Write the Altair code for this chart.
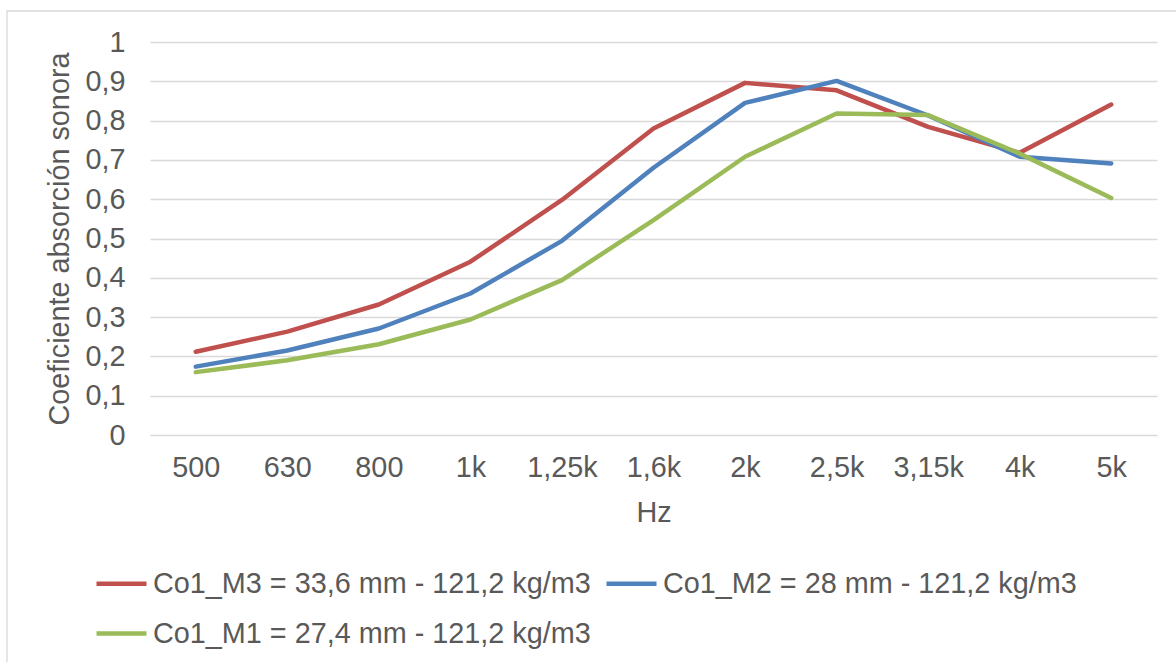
import altair as alt
import pandas as pd

freqs = ["500", "630", "800", "1k", "1,25k", "1,6k", "2k", "2,5k", "3,15k", "4k", "5k"]
series_names = [
    "Co1_M3 = 33,6 mm - 121,2 kg/m3",
    "Co1_M2 = 28 mm - 121,2 kg/m3",
    "Co1_M1 = 27,4 mm - 121,2 kg/m3",
]
m3 = [0.212, 0.263, 0.332, 0.441, 0.598, 0.780, 0.896, 0.877, 0.784, 0.718, 0.841]
m2 = [0.174, 0.215, 0.271, 0.360, 0.494, 0.680, 0.845, 0.901, 0.813, 0.708, 0.691]
m1 = [0.160, 0.190, 0.231, 0.294, 0.394, 0.547, 0.708, 0.818, 0.814, 0.716, 0.603]
colors = ["#C0504D", "#4F81BD", "#9BBB59"]

rows = []
for name, vals in zip(series_names, [m3, m2, m1]):
    for f, v in zip(freqs, vals):
        rows.append({"Hz": f, "val": v, "serie": name})
df = pd.DataFrame(rows)

FONT = "Liberation Sans"
TXT = "#595959"
W, H = 1007, 393

frame = alt.Chart(pd.DataFrame({"a": [0]})).mark_rect(
    fill=None, stroke="#D9D9D9", strokeWidth=1.3
).encode(
    x=alt.value(-143), x2=alt.value(W + 60),
    y=alt.value(-31), y2=alt.value(H + 260),
)

lines = alt.Chart(df).mark_line(strokeWidth=4.5, strokeCap="round", strokeJoin="round").encode(
    x=alt.X("Hz:O", sort=freqs,
            scale=alt.Scale(type="point", padding=0.5),
            axis=alt.Axis(title="Hz", labelAngle=0, domain=False, ticks=False, tickSize=0,
                          grid=False, labelPadding=18, titlePadding=17)),
    y=alt.Y("val:Q", scale=alt.Scale(domain=[0, 1], nice=False),
            axis=alt.Axis(title="Coeficiente absorción sonora",
                          values=[0, 0.1, 0.2, 0.3, 0.4, 0.5, 0.6, 0.7, 0.8, 0.9, 1.0],
                          labelExpr="replace(format(datum.value, '.1~f'), '.', ',')",
                          domain=False, ticks=False, tickSize=0, grid=True,
                          gridColor="#D9D9D9", gridWidth=1.3,
                          labelPadding=25, titlePadding=10)),
    color=alt.Color("serie:N", sort=series_names,
                    scale=alt.Scale(domain=series_names, range=colors),
                    legend=alt.Legend(title=None, orient="none", legendX=-56, legendY=514,
                                      direction="horizontal", columns=2,
                                      symbolType="stroke", symbolSize=2500,
                                      symbolStrokeWidth=4.5, labelOffset=4,
                                      columnPadding=6, rowPadding=7, padding=0)),
    order=alt.Order("serie:N"),
)

chart = alt.layer(frame, lines).properties(
    width=W, height=H,
    autosize=alt.AutoSizeParams(type="none"),
    padding={"left": 150, "top": 42, "right": 19, "bottom": 227},
    background="white",
).configure_view(stroke=None).configure_axis(
    labelFont=FONT, titleFont=FONT, labelColor=TXT, titleColor=TXT,
    labelFontSize=28.8, titleFontSize=28.8, titleFontWeight="normal",
).configure_legend(
    labelFont=FONT, labelColor=TXT, labelFontSize=28.8, labelLimit=0,
)

chart.save("out.html", embed_options={"renderer": "svg", "actions": False})
